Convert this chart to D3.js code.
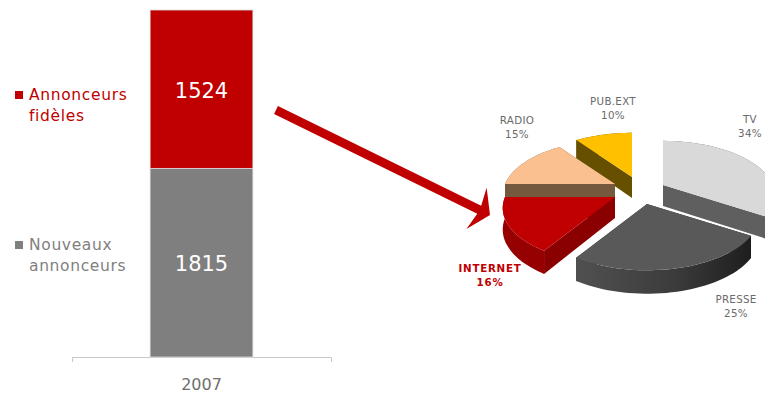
<!DOCTYPE html>
<html>
<head>
<meta charset="utf-8">
<script src="https://cdn.jsdelivr.net/npm/d3@7/dist/d3.min.js"></script>
<style>
html,body{margin:0;padding:0;background:#fff;overflow:hidden}
svg{display:block}
text{font-family:"DejaVu Sans",sans-serif}
</style>
</head>
<body>
<svg id="chart" width="765" height="394"></svg>
<script>
// Advertisers in 2007
const years = ["2007"];
const advertiserGroups = ["Nouveaux annonceurs", "Annonceurs fidèles"];
const advertiserCounts = [1815, 1524];

// Share of advertising spend by medium (%)
const media = ["TV", "PRESSE", "INTERNET", "RADIO", "PUB.EXT"];
const mediaShares = [34, 25, 16, 15, 10];

const svg = d3.select("#chart");
const RED = "#c00000", GREY = "#7f7f7f";

/* ---------- stacked column ---------- */
const x = d3.scaleBand().domain(years).range([72, 331]).paddingInner(0).paddingOuter(0.76);
const y = d3.scaleLinear().domain([0, d3.sum(advertiserCounts)]).range([357, 10]);

const groupColor = d3.scaleOrdinal().domain(advertiserGroups).range([GREY, RED]);
let running = 0;
const stacked = advertiserCounts.map((v, i) => {
  const d = {group: advertiserGroups[i], value: v, y0: running, y1: running + v};
  running += v;
  return d;
});

const axis = d3.axisBottom(x).tickSizeInner(0).tickSizeOuter(5).tickPadding(22);
const axisG = svg.append("g").attr("transform", "translate(0,357)").call(axis);
axisG.select(".domain").attr("stroke", "#c8c8c8").attr("stroke-width", 1);
axisG.selectAll("text").attr("font-size", 16).attr("fill", "#6e6e6e")
  .style("font-family", '"DejaVu Sans",sans-serif');

svg.append("g").selectAll("rect").data(stacked).join("rect")
  .attr("x", x("2007")).attr("width", x.bandwidth())
  .attr("y", d => y(d.y1)).attr("height", d => y(d.y0) - y(d.y1))
  .attr("fill", d => groupColor(d.group))
  .attr("stroke", "#dcdcdc").attr("stroke-width", 0.8);

svg.append("g").selectAll("text").data(stacked).join("text")
  .attr("x", x("2007") + x.bandwidth() / 2)
  .attr("y", d => (y(d.y0) + y(d.y1)) / 2 + 8.5)
  .attr("text-anchor", "middle").attr("font-size", 21).attr("fill", "#fff")
  .text(d => d.value);

/* ---------- legend ---------- */
const legendRows = [
  {lines: ["Annonceurs", "fidèles"], color: RED, top: 100},
  {lines: ["Nouveaux", "annonceurs"], color: GREY, top: 250}
];
const legend = svg.append("g").selectAll("g").data(legendRows).join("g");
legend.append("rect").attr("x", 15).attr("y", d => d.top - 9).attr("width", 8).attr("height", 8)
  .attr("fill", d => d.color);
legend.selectAll("text").data(d => d.lines.map((t, i) => ({t, i, d}))).join("text")
  .attr("x", 29).attr("y", e => e.d.top + e.i * 21)
  .attr("font-size", 15.5).attr("letter-spacing", 0.65)
  .attr("fill", e => e.d.color).text(e => e.t);

/* ---------- connecting arrow ---------- */
const arrowFrom = [276, 110], arrowTip = [490, 215];
const ang = Math.atan2(arrowTip[1] - arrowFrom[1], arrowTip[0] - arrowFrom[0]);
const along = (p, a, b) => [
  p[0] + a * Math.cos(ang) - b * Math.sin(ang),
  p[1] + a * Math.sin(ang) + b * Math.cos(ang)
];
const shaftHalf = 4.4, headLen = 15, headHalf = 23, notch = 12;
svg.append("path")
  .attr("d", d3.line()([
    along(arrowFrom, 0, -shaftHalf), along(arrowTip, -notch, -shaftHalf),
    along(arrowTip, -headLen, -headHalf), arrowTip,
    along(arrowTip, -headLen, headHalf), along(arrowTip, -notch, shaftHalf),
    along(arrowFrom, 0, shaftHalf)
  ]) + "Z")
  .attr("fill", RED);

/* ---------- exploded 3D pie ---------- */
const pieLayout = d3.pie().sort(null).value(d => d.share);
const slices = pieLayout(media.map((m, i) => ({medium: m, share: mediaShares[i]})));

// Apex of every pulled-out slice on the page
const sliceApex = {"TV": [663, 185], "PRESSE": [647, 204], "INTERNET": [615, 197], "RADIO": [615, 184], "PUB.EXT": [632, 177]};
const topColor = d3.scaleOrdinal().domain(media).range(["#d9d9d9", "#595959", "#c00000", "#fac090", "#ffc000"]);
const cutColor = d3.scaleOrdinal().domain(media).range(["#5f5f5f", "#3a3a3a", "#8a0000", "#75593f", "#665000"]);
const rimColor = d3.scaleOrdinal().domain(media).range(["#5f5f5f", "url(#presseRim)", "#960000", "#75593f", "#665000"]);

const rim = svg.append("defs").append("linearGradient").attr("id", "presseRim");
rim.append("stop").attr("offset", "0%").attr("stop-color", "#505050");
rim.append("stop").attr("offset", "55%").attr("stop-color", "#3c3c3c");
rim.append("stop").attr("offset", "100%").attr("stop-color", "#1e1e1e");

// Tilted disc with perspective: the near edge is larger than the far edge
const RX = 110, RY = 53, PERSP = 0.2, THICK = 21;
function project(apex, angle, radius, drop) {
  const depth = Math.cos(angle) * radius;
  const f = 1 / (1 + PERSP * depth);
  return [
    apex[0] + RX * Math.sin(angle) * radius * f,
    apex[1] - RY * depth * f + drop * Math.sqrt(f)
  ];
}
function arcAngles(s) {
  const n = 40;
  return d3.range(n + 1).map(i => s.startAngle + (s.endAngle - s.startAngle) * i / n);
}

const line = d3.line();
const paintOrder = ["PUB.EXT", "RADIO", "TV", "PRESSE", "INTERNET"];
const pieG = svg.append("g");
paintOrder.forEach(name => {
  const s = slices.find(d => d.data.medium === name);
  const apex = sliceApex[name];
  const angles = arcAngles(s);
  const g = pieG.append("g");

  // cut walls
  [s.startAngle, s.endAngle].forEach(a => {
    g.append("path")
      .attr("d", line([
        project(apex, a, 0, 0), project(apex, a, 1, 0),
        project(apex, a, 1, THICK), project(apex, a, 0, THICK)
      ]) + "Z")
      .attr("fill", cutColor(name));
  });
  // outer rim
  g.append("path")
    .attr("d", line(angles.map(a => project(apex, a, 1, 0))
      .concat(angles.slice().reverse().map(a => project(apex, a, 1, THICK)))) + "Z")
    .attr("fill", rimColor(name));
  // top face
  g.append("path")
    .attr("d", line([project(apex, 0, 0, 0)].concat(angles.map(a => project(apex, a, 1, 0)))) + "Z")
    .attr("fill", topColor(name));
});

/* ---------- pie labels ---------- */
const labelAnchor = {"TV": [750, 123], "PRESSE": [736, 303], "INTERNET": [490, 272], "RADIO": [517, 124], "PUB.EXT": [613, 105]};
const labels = svg.append("g").selectAll("text").data(slices).join("text")
  .attr("text-anchor", "middle")
  .attr("font-size", 10.3)
  .attr("letter-spacing", d => d.data.medium === "INTERNET" ? 0.75 : 0.3)
  .attr("font-weight", d => d.data.medium === "INTERNET" ? "bold" : "normal")
  .attr("fill", d => d.data.medium === "INTERNET" ? RED : "#6a6a6a");
labels.append("tspan").attr("x", d => labelAnchor[d.data.medium][0]).attr("y", d => labelAnchor[d.data.medium][1])
  .text(d => d.data.medium);
labels.append("tspan").attr("x", d => labelAnchor[d.data.medium][0]).attr("dy", 13.5)
  .text(d => d.data.share + "%");
</script>
</body>
</html>
